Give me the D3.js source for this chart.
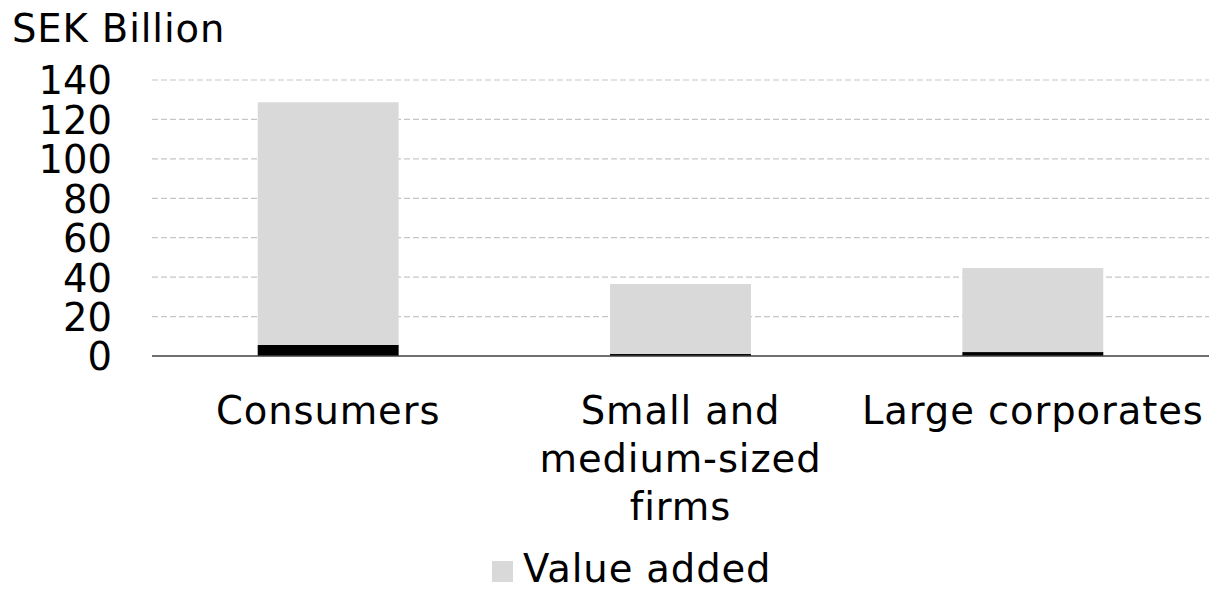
<!DOCTYPE html>
<html>
<head>
<meta charset="utf-8">
<script src="https://cdn.jsdelivr.net/npm/d3@7"></script>
<style>
  html, body { margin: 0; padding: 0; background: #fff; }
  svg { display: block; font-family: "DejaVu Sans", Verdana, sans-serif; }
</style>
</head>
<body>
<svg id="chart" width="1209" height="590"></svg>
<script>
// Segments, SEK billion
const categories = [["Consumers"], ["Small and", "medium-sized", "firms"], ["Large corporates"]];
const baseValues = [5.6, 1.0, 2.0];          // dark bottom segment
const valueAdded = [123.1, 35.5, 42.6];      // grey segment stacked on top
const yTicks = [0, 20, 40, 60, 80, 100, 120, 140];
const unitLabel = "SEK Billion";
const legendLabel = "Value added";

const svg = d3.select("#chart");
const plot = { left: 152, right: 1209, top: 80, bottom: 356 };
const fontSize = 38.5;
const tracking = 0.9;

const x = d3.scaleBand()
  .domain(d3.range(categories.length))
  .range([plot.left, plot.right])
  .paddingInner(0.6)
  .paddingOuter(0.3);

const y = d3.scaleLinear().domain([0, 140]).range([plot.bottom, plot.top]);

// Gridlines
svg.append("g")
  .selectAll("line")
  .data(yTicks.filter(d => d > 0))
  .join("line")
  .attr("x1", plot.left).attr("x2", plot.right)
  .attr("y1", d => y(d)).attr("y2", d => y(d))
  .attr("stroke", "#c6c6c6")
  .attr("stroke-width", 1.2)
  .attr("stroke-dasharray", "6,3");

// Y axis labels
const yAxis = d3.axisLeft(y).tickValues(yTicks).tickSize(0).tickPadding(0);
const yg = svg.append("g").attr("transform", `translate(112,0)`).call(yAxis);
yg.select(".domain").remove();
yg.selectAll("text")
  .attr("font-size", fontSize)
  .attr("font-family", "DejaVu Sans, Verdana, sans-serif")
  .attr("fill", "#000")
  .attr("dy", "0.36em");

// Stacked bars
const stackData = categories.map((c, i) => ({ i, base: baseValues[i], added: valueAdded[i] }));
const series = d3.stack().keys(["base", "added"])(stackData);
const colors = { base: "#000000", added: "#d9d9d9" };

svg.append("g")
  .selectAll("g")
  .data(series)
  .join("g")
  .attr("fill", d => colors[d.key])
  .selectAll("rect")
  .data(d => d)
  .join("rect")
  .attr("x", d => x(d.data.i))
  .attr("width", x.bandwidth())
  .attr("y", d => y(d[1]))
  .attr("height", d => y(d[0]) - y(d[1]));

// Baseline
svg.append("line")
  .attr("x1", plot.left).attr("x2", plot.right)
  .attr("y1", y(0)).attr("y2", y(0))
  .attr("stroke", "#404040")
  .attr("stroke-width", 1.5);

// Category labels
const catG = svg.append("g");
categories.forEach((lines, i) => {
  const t = catG.append("text")
    .attr("text-anchor", "middle")
    .attr("font-size", fontSize)
    .attr("letter-spacing", tracking)
    .attr("fill", "#000");
  lines.forEach((ln, k) => {
    t.append("tspan")
      .attr("x", x(i) + x.bandwidth() / 2)
      .attr("y", 424 + k * 48)
      .text(ln);
  });
});

// Unit label
svg.append("text")
  .attr("x", 12).attr("y", 42)
  .attr("font-size", fontSize)
  .attr("letter-spacing", tracking)
  .attr("fill", "#000")
  .text(unitLabel);

// Legend
const lg = svg.append("g");
lg.append("rect")
  .attr("x", 492).attr("y", 561)
  .attr("width", 21).attr("height", 21)
  .attr("fill", colors.added);
lg.append("text")
  .attr("x", 523).attr("y", 582)
  .attr("font-size", fontSize)
  .attr("letter-spacing", tracking)
  .attr("fill", "#000")
  .text(legendLabel);
</script>
</body>
</html>
